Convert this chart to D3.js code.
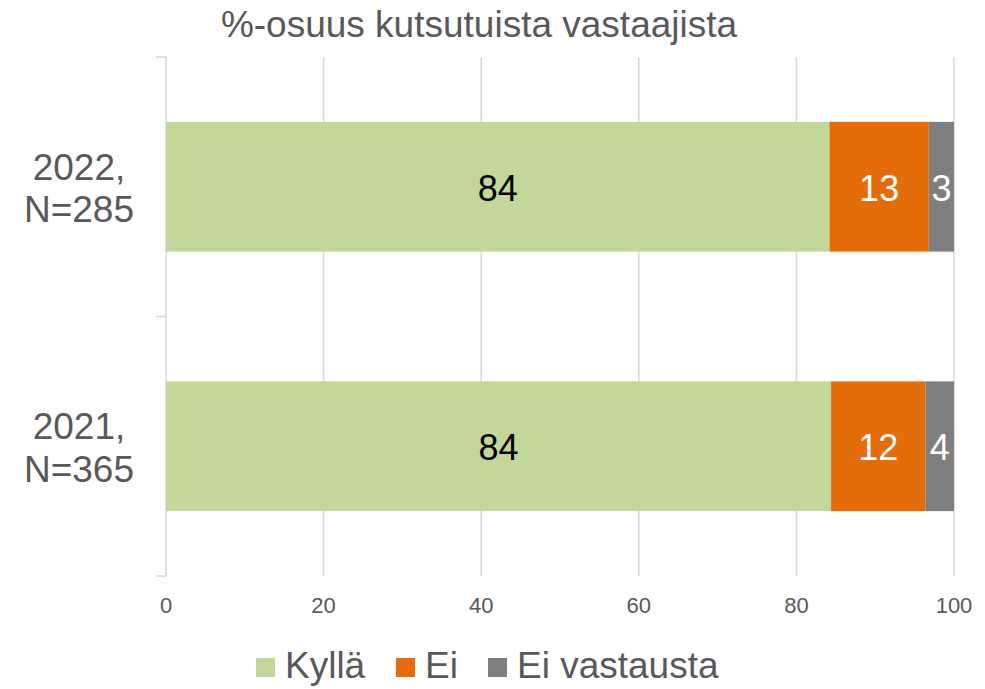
<!DOCTYPE html>
<html><head><meta charset="utf-8">
<script src="https://cdn.jsdelivr.net/npm/d3@7"></script>
<style>body{margin:0;background:#fff}text{font-family:"Liberation Sans",Arial,sans-serif}</style>
</head><body><svg id="c" width="985" height="689"></svg>
<script>
const categories = [["2022,","N=285"],["2021,","N=365"]];
const seriesNames = ["Kyllä","Ei","Ei vastausta"];
const kylla = [84.2, 84.4];
const ei = [12.6, 12.0];
const eiVastausta = [3.2, 3.6];
const labels = [[84,13,3],[84,12,4]];
const xTicks = [0,20,40,60,80,100];
const colors = ["#C4D79B","#E46C0A","#7F7F7F"];
const title = "%-osuus kutsutuista vastaajista";

const svg = d3.select("#c");
const L=166, R=954, T=57, B=576;
const x = d3.scaleLinear().domain([0,100]).range([L,R]);
const y = d3.scaleBand().domain(d3.range(categories.length)).range([T,B]).paddingInner(0.5).paddingOuter(0.25);

// grid
svg.append("g").selectAll("line").data(xTicks.slice(1)).join("line")
  .attr("x1",d=>x(d)).attr("x2",d=>x(d)).attr("y1",T).attr("y2",B)
  .attr("stroke","#D9D9D9").attr("stroke-width",1.5);
// y axis line and ticks
svg.append("line").attr("x1",L).attr("x2",L).attr("y1",T).attr("y2",B).attr("stroke","#D9D9D9").attr("stroke-width",1.5);
const bandStep = (B-T)/categories.length;
svg.append("g").selectAll("line").data(d3.range(categories.length+1)).join("line")
  .attr("x1",L-10).attr("x2",L).attr("y1",d=>T+d*bandStep).attr("y2",d=>T+d*bandStep)
  .attr("stroke","#D9D9D9").attr("stroke-width",1.5);

const series = [kylla, ei, eiVastausta];
const stacked = categories.map((c,i)=>{let acc=0;return series.map((s,k)=>{const v={x0:acc,x1:acc+s[i],k,i,label:labels[i][k]};acc+=s[i];return v;});});

const g = svg.append("g");
stacked.forEach(row=>{
  row.forEach(d=>{
    g.append("rect").attr("x",x(d.x0)).attr("width",x(d.x1)-x(d.x0))
     .attr("y",y(d.i)).attr("height",y.bandwidth()).attr("fill",colors[d.k]);
    g.append("text").attr("x",(x(d.x0)+x(d.x1))/2).attr("y",y(d.i)+y.bandwidth()/2+14)
     .attr("text-anchor","middle").attr("font-size",36)
     .attr("fill",d.k===0?"#000":"#fff").text(d.label);
  });
});

// category labels
categories.forEach((c,i)=>{
  const t = svg.append("text").attr("text-anchor","middle").attr("font-size",37).attr("fill","#595959");
  const cy = y(i)+y.bandwidth()/2;
  t.append("tspan").attr("x",79).attr("y",cy-7).text(c[0]);
  t.append("tspan").attr("x",79).attr("y",cy+35.5).text(c[1]);
});

// x tick labels
svg.append("g").selectAll("text").data(xTicks).join("text")
  .attr("x",d=>x(d)).attr("y",613).attr("text-anchor","middle").attr("font-size",22)
  .attr("fill","#595959").text(d=>d);

// title
svg.append("text").attr("x",479).attr("y",37).attr("text-anchor","middle").attr("font-size",37)
  .attr("fill","#595959").text(title);

// legend
const legX=[256,396,488];
seriesNames.forEach((n,k)=>{
  svg.append("rect").attr("x",legX[k]).attr("y",658).attr("width",19).attr("height",19).attr("fill",colors[k]);
  svg.append("text").attr("x",legX[k]+29).attr("y",678).attr("font-size",37).attr("fill","#595959").text(n);
});
</script></body></html>
